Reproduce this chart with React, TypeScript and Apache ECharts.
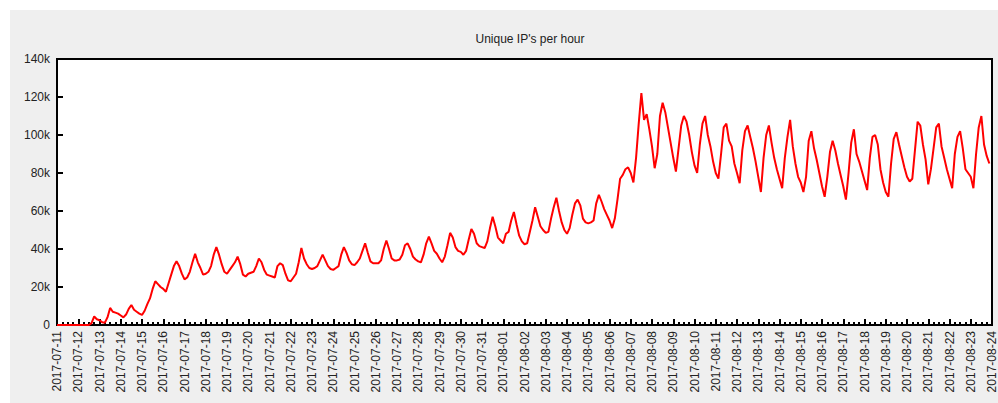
import React, { useEffect, useRef } from "react";
import * as echarts from "echarts";

const chartTitle = "Unique IP's per hour";

const dayLabels = [
  "2017-07-11", "2017-07-12", "2017-07-13", "2017-07-14", "2017-07-15", "2017-07-16",
  "2017-07-17", "2017-07-18", "2017-07-19", "2017-07-20", "2017-07-21", "2017-07-22",
  "2017-07-23", "2017-07-24", "2017-07-25", "2017-07-26", "2017-07-27", "2017-07-28",
  "2017-07-29", "2017-07-30", "2017-07-31", "2017-08-01", "2017-08-02", "2017-08-03",
  "2017-08-04", "2017-08-05", "2017-08-06", "2017-08-07", "2017-08-08", "2017-08-09",
  "2017-08-10", "2017-08-11", "2017-08-12", "2017-08-13", "2017-08-14", "2017-08-15",
  "2017-08-16", "2017-08-17", "2017-08-18", "2017-08-19", "2017-08-20", "2017-08-21",
  "2017-08-22", "2017-08-23", "2017-08-24",
];

const yTickLabels = ["0", "20k", "40k", "60k", "80k", "100k", "120k", "140k"];

// hours between consecutive readings
const stepHours = 3;

// unique IPs (thousands), one row per day, readings at 00,03,06,...,21h
const uniqueIpsK = [
  0, 0, 0, 0, 0, 0, 0, 0,
  0, 0, 0, 0, 0, 1, 4.5, 3,
  2.5, 1.5, 1.2, 4, 9, 7, 6.5, 6,
  5, 4, 5.5, 8.5, 10.5, 8, 7, 6,
  5.3, 7.5, 11, 14, 19, 23, 21.5, 20,
  19, 17.5, 22, 26.5, 31, 33.5, 31, 27,
  24, 25, 28, 33, 37.5, 33, 30, 26.5,
  27, 28, 31, 37, 41, 37, 32, 28,
  27, 29, 31, 33, 36, 32, 26.5, 25.5,
  27, 27.5, 28, 31, 35, 33, 29, 26.5,
  26, 25.5, 25, 31, 32.5, 31.5, 27, 23.5,
  23, 25, 27, 33, 40.5, 35, 32, 30,
  29.5, 30, 31, 34, 37, 34, 31, 29.5,
  29, 30, 31, 37, 41, 38, 34, 32,
  31.5, 33, 35, 39, 43, 38, 33.5, 32.5,
  32.5, 32.5, 34, 40, 44.5, 40, 35, 34,
  34, 34.5, 37, 42, 43, 40, 36, 34.5,
  33.5, 33, 37, 43, 46.5, 43, 39, 37.5,
  35, 33, 36, 42, 48.5, 46, 41, 39,
  38.5, 37, 39, 45, 50.5, 48, 43, 41.5,
  41, 40.5, 44, 51, 57, 52, 46, 44.5,
  43, 48, 49, 55, 59.5, 53, 47, 44,
  42.5, 43, 49, 55, 62, 57, 52, 50,
  48.5, 49, 56, 62, 67, 60, 54, 50,
  48, 51, 58, 64, 66, 63, 56, 54,
  53.5, 54, 55, 64, 68.5, 65, 61, 58,
  55, 51, 56, 66, 77, 79, 82, 83,
  80, 75, 88, 106, 122, 108, 111, 103,
  94, 82.5, 90, 110, 117, 112, 104, 96,
  88, 80.7, 93, 105, 110, 107, 100, 91,
  84, 80, 95, 106, 110, 100, 94, 86,
  80, 77, 90, 104, 106, 97, 94, 85,
  80, 74.6, 92, 102, 105, 99, 93, 86,
  78, 70, 88, 100, 105, 96, 88, 82,
  77, 72, 88, 99, 108, 94, 85, 78,
  75, 70, 78, 97, 102, 93, 87, 80,
  73, 67.5, 78, 91, 97, 92, 85, 79,
  73, 66, 80, 96, 103, 90, 86, 81,
  76, 71, 88, 99, 100, 95, 82, 75,
  70, 67.5, 85, 98, 101.5, 95, 89, 83,
  78, 75.5, 77, 92, 107, 105, 95, 87,
  74, 82, 93, 104, 106, 94, 88, 82,
  77, 72, 90, 99, 102, 93, 82, 80,
  78, 72, 90, 104, 110, 95, 89, 85,
];

export default function App() {
  const ref = useRef<HTMLDivElement>(null);
  useEffect(() => {
    const chart = echarts.init(ref.current!, null, { renderer: "svg" });
    const data = uniqueIpsK.map((v, i) => [i * stepHours, v * 1000]);
    const font = "Liberation Sans";
    chart.setOption({
      animation: false,
      backgroundColor: "#efefef",
      title: {
        text: chartTitle,
        left: 47 + 936 / 2,
        textAlign: "center",
        top: 18,
        textStyle: { fontSize: 12, fontWeight: "normal", color: "#222", fontFamily: font },
      },
      grid: {
        left: 47,
        right: 5,
        top: 49,
        bottom: 78,
        show: true,
        backgroundColor: "#fff",
        borderColor: "#000",
        borderWidth: 2,
      },
      xAxis: {
        type: "value",
        min: 0,
        max: (dayLabels.length - 1) * 24,
        interval: 24,
        axisLine: { show: true, lineStyle: { color: "#000", width: 2 } },
        axisTick: { show: true, inside: true, length: 6, lineStyle: { color: "#000", width: 2 } },
        minorTick: { show: true, splitNumber: 4, length: 3, lineStyle: { color: "#000", width: 2 } },
        splitLine: { show: false },
        minorSplitLine: { show: false },
        axisLabel: {
          rotate: 90,
          margin: 6,
          fontSize: 12,
          fontFamily: font,
          color: "#222",
          showMinLabel: true,
          showMaxLabel: true,
          formatter: (v: number) => dayLabels[Math.round(v / 24)] ?? "",
        },
      },
      yAxis: {
        type: "value",
        min: 0,
        max: 140000,
        interval: 20000,
        axisLine: { show: true, lineStyle: { color: "#000", width: 2 } },
        axisTick: { show: true, inside: true, length: 6, lineStyle: { color: "#000", width: 2 } },
        splitLine: { show: false },
        axisLabel: {
          margin: 7,
          fontSize: 12,
          fontFamily: font,
          color: "#222",
          formatter: (v: number) => yTickLabels[Math.round(v / 20000)] ?? "",
        },
      },
      series: [
        {
          type: "line",
          data,
          showSymbol: false,
          symbol: "none",
          lineStyle: { color: "#ff0000", width: 2 },
          itemStyle: { color: "#ff0000" },
        },
      ],
    });
    return () => chart.dispose();
  }, []);
  return (
    <div
      ref={ref}
      style={{ position: "absolute", left: 10, top: 10, width: 988, height: 393, background: "#efefef" }}
    />
  );
}
